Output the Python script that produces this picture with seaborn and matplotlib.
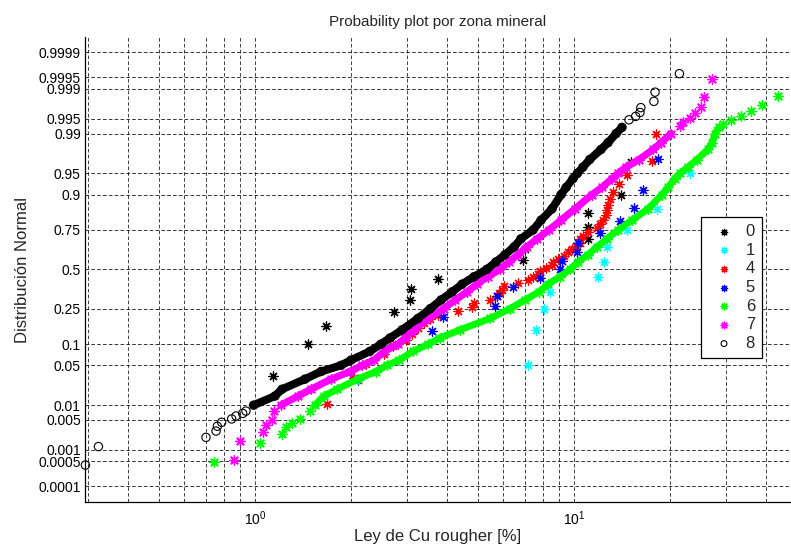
import numpy as np
import matplotlib
matplotlib.use("Agg")
import matplotlib.pyplot as plt
from matplotlib.ticker import (FixedLocator, FixedFormatter, LogLocator,
                               NullLocator, NullFormatter)
import seaborn as sns
from statistics import NormalDist

# ---------------------------------------------------------------
# Ley de Cu rougher [%] por zona mineral
# Zonas con pocas muestras: valores individuales (se ordenan al graficar)
zona0_ley = [1.137, 1.461, 1.666, 2.73, 3.07, 3.09, 3.75, 5.33, 6.93, 7.0,
             11.05, 11.08, 11.1, 14.02, 15.11]
zona1_ley = [7.19, 7.60, 8.05, 8.41, 11.87, 12.45, 12.69, 14.63, 18.16, 23.1]
zona4_ley = [1.678, 2.036, 2.228, 2.537, 2.698, 2.964, 3.106, 3.243, 3.387,
             3.537, 3.747, 4.338, 4.806, 4.876, 5.453, 5.723, 5.819, 5.934,
             6.033, 6.675, 7.150, 7.456, 7.713, 7.808, 8.170, 8.514, 8.595,
             8.910, 9.305, 9.577, 9.856, 10.145, 10.44, 10.48, 10.69, 11.09,
             11.78, 12.06, 12.35, 12.60, 12.66, 12.78, 12.97, 13.28, 13.79,
             14.63, 17.52, 18.08]
zona5_ley = [2.099, 2.556, 3.58, 3.885, 5.64, 5.723, 6.425, 7.825, 9.07, 9.17,
             10.20, 10.29, 12.06, 13.94, 15.42, 16.40, 18.38]

# Zonas con muchas muestras: cuantiles (probabilidad acumulada, ley)
zona6_prob = [0.00048, 0.00145, 0.00242, 0.00338, 0.00435, 0.00531, 0.0075,
              0.01, 0.015, 0.02, 0.03, 0.04, 0.05, 0.06, 0.08, 0.1, 0.12,
              0.15, 0.2, 0.25, 0.3, 0.35, 0.4, 0.45, 0.5, 0.55, 0.6, 0.65,
              0.7, 0.75, 0.8, 0.85, 0.9, 0.92, 0.94, 0.95, 0.96, 0.97, 0.98,
              0.985, 0.99, 0.9925, 0.99372, 0.99469, 0.99565, 0.99662,
              0.99758, 0.99855]
zona6_ley = [0.746, 1.039, 1.213, 1.251, 1.309, 1.384, 1.487, 1.542, 1.645,
             1.807, 2.10, 2.39, 2.59, 2.83, 3.13, 3.49, 3.8, 4.39, 5.45, 6.3,
             7.02, 7.77, 8.29, 9.04, 9.71, 10.29, 11.07, 11.8, 12.69, 13.74,
             15.2, 17.06, 18.88, 19.7, 20.73, 21.5, 22.77, 24.3, 26.3, 27.1,
             27.7, 28.5, 29.3, 31.1, 33.4, 35.8, 38.8, 43.7]

zona7_prob = [0.00054, 0.00161, 0.00269, 0.00376, 0.00484, 0.0075, 0.01,
              0.015, 0.02, 0.03, 0.04, 0.05, 0.06, 0.08, 0.1, 0.12, 0.15,
              0.2, 0.25, 0.3, 0.35, 0.4, 0.45, 0.5, 0.55, 0.6, 0.65, 0.7,
              0.75, 0.8, 0.85, 0.9, 0.92, 0.94, 0.95, 0.96, 0.97, 0.98,
              0.985, 0.99, 0.99301, 0.99409, 0.99516, 0.99624, 0.99731,
              0.99839, 0.99946]
zona7_ley = [0.859, 0.897, 1.062, 1.08, 1.128, 1.147, 1.206, 1.364, 1.498,
             1.73, 1.985, 2.165, 2.36, 2.54, 2.81, 2.95, 3.15, 3.49, 3.9,
             4.24, 4.62, 4.96, 5.37, 5.86, 6.25, 6.67, 7.12, 7.66, 8.35, 9.1,
             10.07, 11.39, 12.24, 13.16, 13.74, 14.55, 15.99, 17.69, 18.74,
             20.14, 21.5, 21.97, 23.1, 23.9, 25.1, 25.5, 27.1]

zona8_prob = [0.0004, 0.0012, 0.002, 0.0028, 0.0036, 0.0044, 0.0052, 0.006,
              0.0068, 0.0076, 0.01, 0.015, 0.02, 0.03, 0.04, 0.05, 0.06,
              0.08, 0.1, 0.12, 0.15, 0.2, 0.25, 0.3, 0.35, 0.4, 0.45, 0.5,
              0.55, 0.6, 0.65, 0.7, 0.75, 0.8, 0.85, 0.9, 0.92, 0.94, 0.95,
              0.96, 0.97, 0.98, 0.985, 0.99, 0.9925, 0.9948, 0.9956, 0.9964,
              0.9972, 0.998, 0.9988, 0.9996]
zona8_ley = [0.294, 0.323, 0.702, 0.755, 0.762, 0.786, 0.845, 0.872, 0.915,
             0.937, 0.99, 1.155, 1.215, 1.434, 1.61, 1.86, 2.0, 2.29, 2.48,
             2.65, 2.89, 3.24, 3.54, 3.83, 4.15, 4.46, 4.86, 5.33, 5.69, 6.08,
             6.49, 6.82, 7.44, 7.88, 8.53, 9.11, 9.45, 9.93, 10.25, 10.66,
             11.2, 12.15, 12.78, 13.55, 14.14, 14.87, 15.6, 16.1, 16.2, 17.8,
             17.95, 21.4]

zonas = ["0", "1", "4", "5", "6", "7", "8"]
colores = {"0": "black", "1": "cyan", "4": "red", "5": "blue",
           "6": (0, 1, 0), "7": "magenta", "8": "black"}

prob_ticks = [0.0001, 0.0005, 0.001, 0.005, 0.01, 0.05, 0.1, 0.25, 0.5,
              0.75, 0.9, 0.95, 0.99, 0.995, 0.999, 0.9995, 0.9999]
prob_labels = ["0.0001", "0.0005", "0.001", "0.005", "0.01", "0.05", "0.1",
               "0.25", "0.5", "0.75", "0.9", "0.95", "0.99", "0.995", "0.999",
               "0.9995", "0.9999"]

# ---------------------------------------------------------------
sns.set_style("white")
plt.rcParams["font.family"] = ["Liberation Sans", "DejaVu Sans"]
plt.rcParams["mathtext.fontset"] = "custom"
plt.rcParams["mathtext.rm"] = "Liberation Sans"
plt.rcParams["lines.scale_dashes"] = False

# normal-probability axis
_nd = NormalDist()
_ppf = np.vectorize(_nd.inv_cdf, otypes=[float])
_cdf = np.vectorize(_nd.cdf, otypes=[float])


def prob_forward(p):
    p = np.asarray(p, dtype=float)
    return _ppf(np.clip(p, 1e-15, 1 - 1e-15))


def prob_inverse(z):
    return _cdf(np.asarray(z, dtype=float))


def posiciones(valores):
    """Sorted sample and its plotting positions (i - 0.5) / n."""
    v = np.sort(np.asarray(valores, dtype=float))
    n = len(v)
    return v, (np.arange(1, n + 1) - 0.5) / n


fig = plt.figure(figsize=(7.91, 5.48), dpi=100)
W, H = 791.0, 548.0
x0, x1, y0, y1 = 85.0, 791.0, 37.0, 502.3
ax = fig.add_axes([x0 / W, 1 - y1 / H, (x1 - x0) / W, (y1 - y0) / H])
ax.set_xscale("log")
ax.set_yscale("function", functions=(prob_forward, prob_inverse))
ax.set_axisbelow(True)

asterisco = (8, 2, 0)
handles = []

# sparse zones
for k, (zona, datos) in enumerate([("0", zona0_ley), ("1", zona1_ley),
                                   ("4", zona4_ley), ("5", zona5_ley)]):
    v, p = posiciones(datos)
    sns.scatterplot(x=v, y=p, ax=ax, marker=asterisco, s=42,
                    color=colores[zona], linewidth=0.9, label=zona,
                    zorder=3 + k * 0.1, legend=False)
    handles.append(ax.collections[-1])

# dense zones: continuous band plus markers
anchos = {"6": 5.0, "7": 5.2, "8": 5.8}
for k, (zona, prob, ley) in enumerate([("6", zona6_prob, zona6_ley),
                                       ("7", zona7_prob, zona7_ley),
                                       ("8", zona8_prob, zona8_ley)]):
    prob = np.asarray(prob)
    ley = np.asarray(ley)
    z = 4 + k * 0.1
    cuerpo = (prob >= 0.0095) & (prob <= 0.9925)
    sns.lineplot(x=ley[cuerpo], y=prob[cuerpo], ax=ax, sort=False,
                 estimator=None, color=colores[zona], linewidth=anchos[zona],
                 zorder=z, legend=False)
    if zona == "8":
        sns.scatterplot(x=ley, y=prob, ax=ax, marker="o", s=36,
                        facecolor="none", edgecolor="black", linewidth=0.8,
                        label=zona, zorder=z + 0.01, clip_on=False,
                        legend=False)
    else:
        sns.scatterplot(x=ley, y=prob, ax=ax, marker=asterisco, s=46,
                        color=colores[zona], linewidth=1.0, label=zona,
                        zorder=z + 0.01, legend=False)
    handles.append(ax.collections[-1])

# axes limits and ticks
ax.set_xlim(10 ** ((x0 - 255.0) / 319.0), 10 ** ((x1 - 255.0) / 319.0))
ax.set_ylim(3.3e-5, 1 - 3.44e-5)
ax.xaxis.set_major_locator(LogLocator(base=10))
ax.xaxis.set_minor_locator(LogLocator(base=10, subs=np.arange(2, 10)))
ax.xaxis.set_minor_formatter(NullFormatter())
ax.yaxis.set_major_locator(FixedLocator(prob_ticks))
ax.yaxis.set_major_formatter(FixedFormatter(prob_labels))
ax.yaxis.set_minor_locator(NullLocator())

ax.tick_params(axis="both", which="both", direction="in", colors="black",
               labelsize=10, width=0.7)
ax.tick_params(axis="y", which="major", length=4, pad=3)
ax.tick_params(axis="x", which="major", length=4, pad=5)
ax.tick_params(axis="x", which="minor", length=3)

dash = (0, (2.6, 1.6))
ax.grid(True, axis="y", which="major", color="black", linewidth=0.65,
        linestyle=dash, alpha=0.85)
ax.grid(True, axis="x", which="both", color="black", linewidth=0.65,
        linestyle=dash, alpha=0.8)

for lado in ("top", "right"):
    ax.spines[lado].set_visible(False)
for lado in ("left", "bottom"):
    ax.spines[lado].set_color("black")
    ax.spines[lado].set_linewidth(0.9)

ax.set_title("Probability plot por zona mineral", fontsize=11, pad=8)
ax.set_xlabel("Ley de Cu rougher [%]", fontsize=12)
ax.set_ylabel("Distribución Normal", fontsize=12)
ax.xaxis.set_label_coords(0.5, -0.058)
ax.yaxis.set_label_coords(-0.078, 0.5)

leg = ax.legend(handles, zonas, loc="upper left",
                bbox_to_anchor=(700.7 / W, 1 - 217.3 / H),
                bbox_transform=fig.transFigure, borderaxespad=0,
                fontsize=12, frameon=True, fancybox=False, framealpha=1,
                edgecolor="black", markerscale=0.7, scatterpoints=1,
                handlelength=2.0, handletextpad=0.3, borderpad=0.4,
                labelspacing=0.22)
leg.get_frame().set_linewidth(0.9)
leg.set_zorder(10)

fig.savefig("out.png", dpi=100)
